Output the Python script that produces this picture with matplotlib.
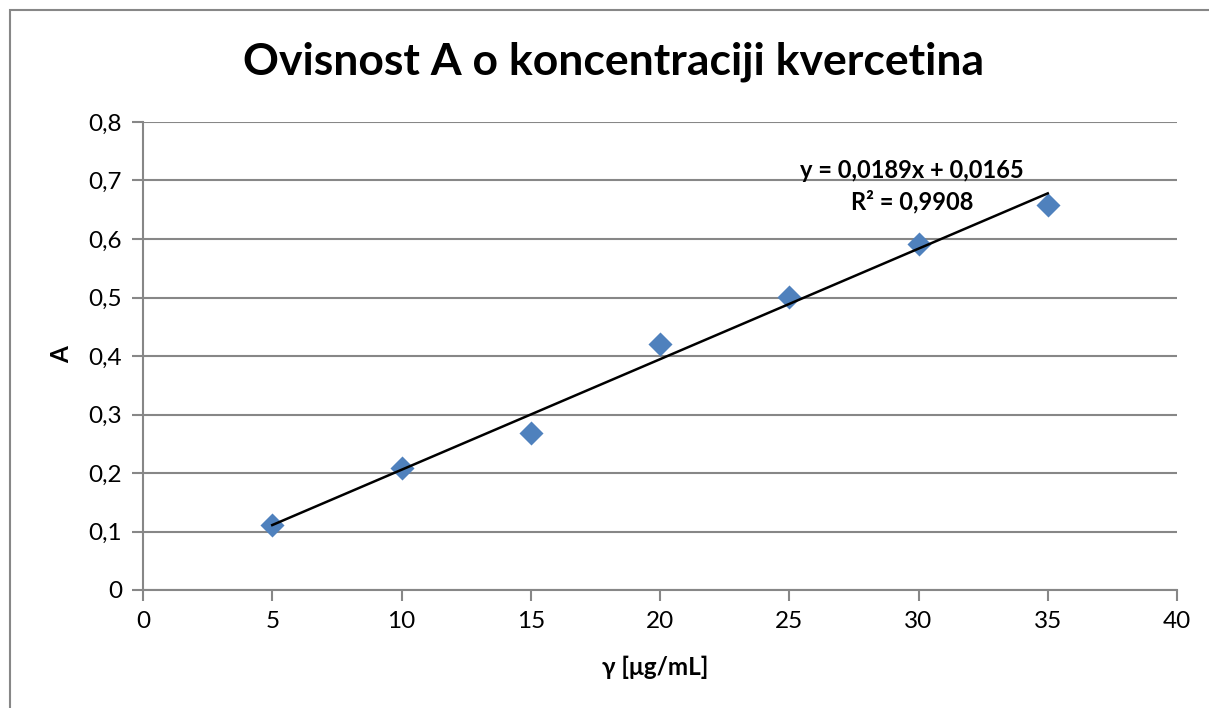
import numpy as np
import matplotlib.pyplot as plt
from matplotlib.ticker import FuncFormatter

# podaci
konc = [5, 10, 15, 20, 25, 30, 35]
absorb = [0.111, 0.208, 0.268, 0.421, 0.501, 0.591, 0.658]
nagib = 0.0189
odsjecak = 0.0165
r2 = 0.9908

plt.rcParams['font.family'] = ['Lato', 'DejaVu Sans']
siva = '#878787'

W, H = 1209, 708
fig = plt.figure(figsize=(W / 100, H / 100), dpi=100)
ax = fig.add_axes([143 / W, 1 - 590 / H, (1177 - 143) / W, (590 - 122) / H])

# okvir grafikona
fig.patches.append(plt.Rectangle((10 / W, -0.01), 1.2, 1 - 10 / H + 0.01,
                                 transform=fig.transFigure, fill=False,
                                 edgecolor=siva, linewidth=1.5))

ax.set_xlim(0, 40)
ax.set_ylim(0, 0.8)
ax.set_xticks(np.arange(0, 41, 5))
ax.set_yticks(np.arange(0, 0.81, 0.1))
ax.yaxis.set_major_formatter(FuncFormatter(lambda v, p: '0' if v == 0 else f'{v:.1f}'.replace('.', ',')))
ax.grid(axis='y', color=siva, linewidth=1.5)
ax.set_axisbelow(True)
for s in ['top', 'right']:
    ax.spines[s].set_visible(False)
for s in ['left', 'bottom']:
    ax.spines[s].set_color(siva)
    ax.spines[s].set_linewidth(1.5)
ax.tick_params(colors=siva, width=1.5, length=8, labelsize=17.5, labelcolor='black', pad=7)

xs = np.array([konc[0], konc[-1]])
ax.plot(xs, nagib * xs + odsjecak, color='black', linewidth=1.8, zorder=3)
ax.scatter(konc, absorb, marker='D', s=150, color='#4F81BD', zorder=2, linewidths=0)

fig.text(912 / W, 1 - 170 / H, 'y = 0,0189x + 0,0165', ha='center', va='center',
         fontsize=17, fontweight='bold')
fig.text(912 / W, 1 - 202 / H, f'R² = {r2}'.replace('.', ','), ha='center', va='center',
         fontsize=17, fontweight='bold')

fig.text(614 / W, 1 - 62 / H, 'Ovisnost A o koncentraciji kvercetina',
         ha='center', va='center', fontsize=32, fontweight='bold')
fig.text(655 / W, 1 - 667 / H, 'γ [μg/mL]', ha='center', va='center',
         fontsize=17.5, fontweight='bold')
fig.text(62 / W, 1 - 355 / H, 'A', ha='center', va='center', rotation=90,
         fontsize=17.5, fontweight='bold')

fig.savefig('out.png', dpi=100)
